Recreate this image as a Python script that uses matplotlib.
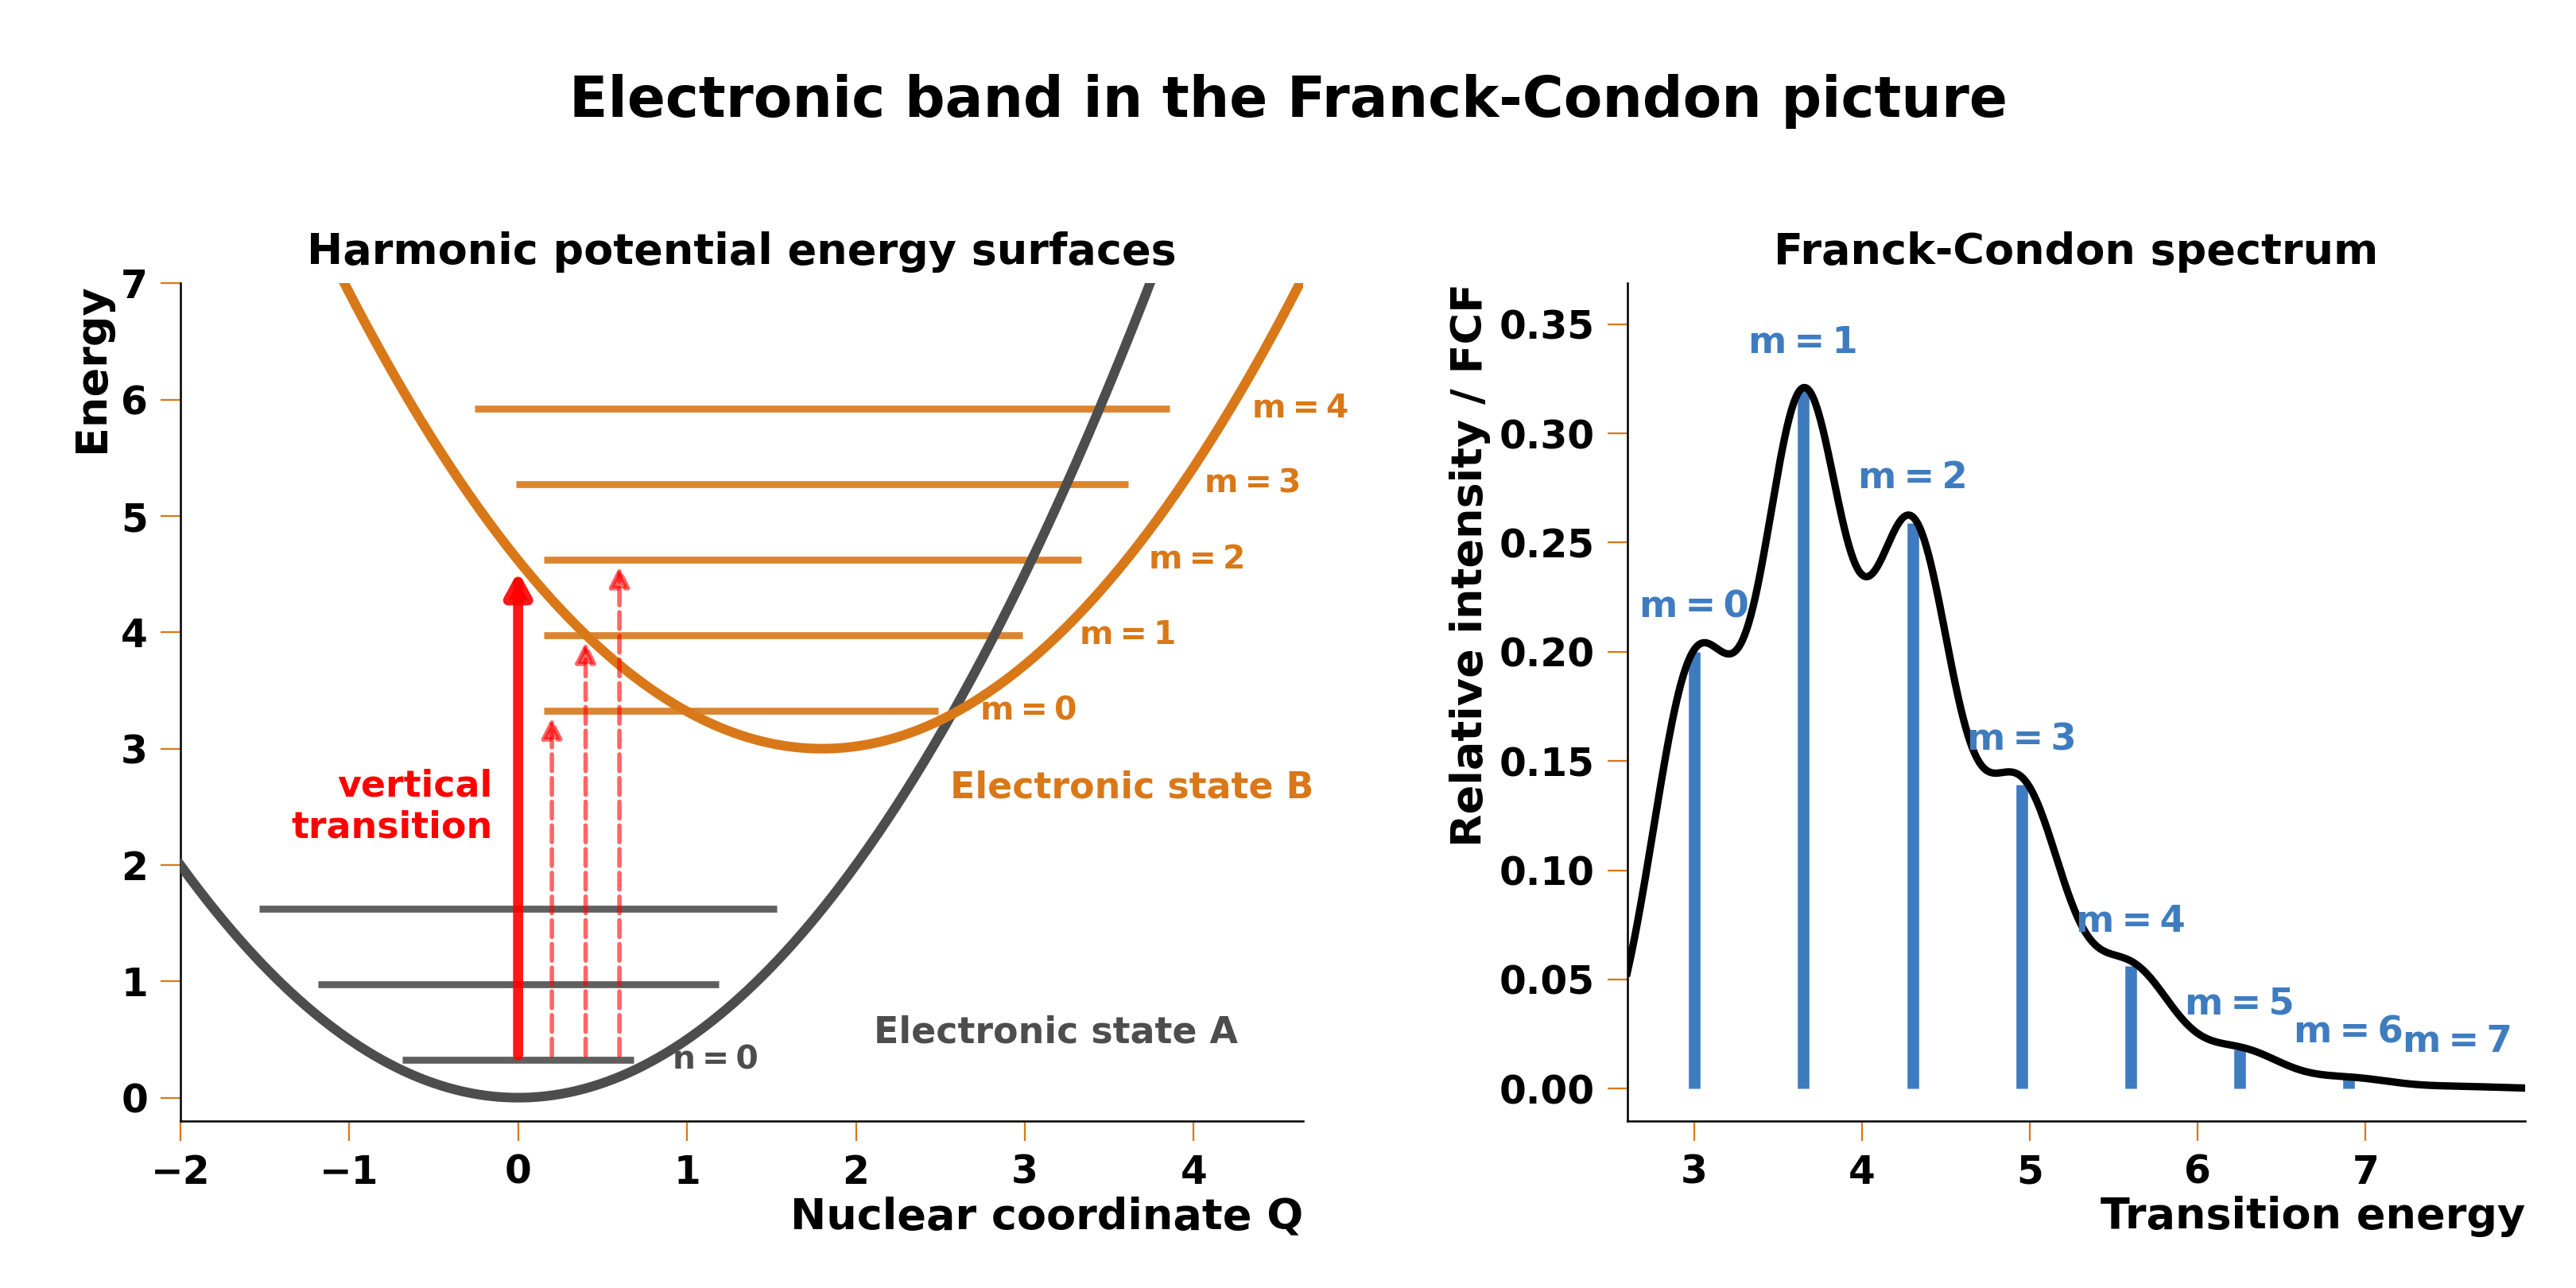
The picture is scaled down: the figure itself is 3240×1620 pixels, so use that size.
import numpy as np
import matplotlib
matplotlib.use("Agg")
import matplotlib.pyplot as plt

plt.rcParams['font.family'] = ['DejaVu Sans']
plt.rcParams['font.weight'] = 'bold'

# ---------------- data ----------------
# Potential energy surfaces (harmonic): E = E0 + 0.5*k*(Q-Q0)^2
state_A = dict(Q0=0.0, E0=0.0, k=1.0)
state_B = dict(Q0=1.8, E0=3.0, k=1.0)
levels_A = [0.325, 0.975, 1.625]                 # n = 0, 1, 2
levels_B = [3.325, 3.975, 4.625, 5.275, 5.925]   # m = 0..4
level_labels_B = ["m\u2009=\u20090", "m\u2009=\u20091", "m\u2009=\u20092",
                  "m\u2009=\u20093", "m\u2009=\u20094"]
level_label_A = "n\u2009=\u20090"

# vertical transitions (Q position, target energy)
arrow_Q = [0.0, 0.2, 0.4, 0.6]
arrow_target = [4.62, 3.325, 3.975, 4.625]

# Franck-Condon spectrum
trans_energy = [3.0, 3.65, 4.3, 4.95, 5.6, 6.25, 6.9, 7.55]
fcf = [0.200, 0.321, 0.259, 0.139, 0.056, 0.018, 0.005, 0.001]
stick_labels = ["m\u2009=\u2009%d" % i for i in range(8)]
broadening_sigma = 0.25

# ---------------- style ----------------
ORANGE = '#d97818'
GRAY = '#4d4d4d'
BLUE = '#3f7cbf'
TICK_FS = 17.3
LABEL_FS = 19.2

fig = plt.figure(figsize=(16, 8), dpi=202.5)
axL = fig.add_axes([0.070, 0.1297, 0.436, 0.6503])
axR = fig.add_axes([0.6317, 0.1297, 0.3485, 0.6503])

fig.text(0.5, 0.921, "Electronic band in the Franck-Condon picture",
         ha='center', va='center', fontsize=25.2, fontweight='bold')

for ax in (axL, axR):
    for s in ('top', 'right'):
        ax.spines[s].set_visible(False)
    for s in ('left', 'bottom'):
        ax.spines[s].set_linewidth(0.9)
    ax.tick_params(direction='out', length=9, width=0.8, color=ORANGE,
                   labelsize=TICK_FS, pad=5.5)

# ---------------- left panel ----------------
def pes(Q, st):
    return st['E0'] + 0.5 * st['k'] * (Q - st['Q0']) ** 2

Q = np.linspace(-2.0, 4.65, 600)
axL.plot(Q, pes(Q, state_A), color=GRAY, lw=4.3, zorder=3)
axL.plot(Q, pes(Q, state_B), color=ORANGE, lw=4.3, zorder=3)

for E in levels_A:
    tp = np.sqrt(2 * (E - state_A['E0']) / state_A['k'])
    axL.hlines(E, state_A['Q0'] - 0.85 * tp, state_A['Q0'] + 0.85 * tp,
               color=GRAY, alpha=0.9, lw=3.1, zorder=2)
axL.text(state_A['Q0'] + np.sqrt(2 * levels_A[0]) + 0.11, levels_A[0], level_label_A,
         color=GRAY, fontsize=14.5, fontweight='bold', ha='left', va='center')

for E, lab in zip(levels_B, level_labels_B):
    tp = np.sqrt(2 * (E - state_B['E0']) / state_B['k'])
    left = min(state_B['Q0'] - 0.85 * tp, 0.15)
    axL.hlines(E, left, state_B['Q0'] + 0.85 * tp,
               color=ORANGE, alpha=0.9, lw=3.1, zorder=2)
    axL.text(state_B['Q0'] + tp + 0.13, E, lab, color=ORANGE, fontsize=14.5,
             fontweight='bold', ha='left', va='center')

for i, (q, tgt) in enumerate(zip(arrow_Q, arrow_target)):
    if i == 0:
        props = dict(arrowstyle='-|>,head_length=0.55,head_width=0.3', lw=4.5,
                     color='red', alpha=0.9, mutation_scale=15, shrinkA=2, shrinkB=5)
    else:
        props = dict(arrowstyle='-|>,head_length=0.5,head_width=0.25', lw=2.0,
                     color='red', alpha=0.6, linestyle='--', mutation_scale=15,
                     shrinkA=2, shrinkB=3)
    axL.annotate('', xy=(q, tgt), xytext=(q, levels_A[0]), arrowprops=props, zorder=4)

axL.text(-0.15, 2.5, "vertical\ntransition", color='red', fontsize=16.3,
         fontweight='bold', ha='right', va='center', multialignment='right')
axL.text(2.56, 2.66, "Electronic state B", color=ORANGE, fontsize=16.3,
         fontweight='bold', ha='left', va='center')
axL.text(2.107, 0.56, "Electronic state A", color=GRAY, fontsize=16.3,
         fontweight='bold', ha='left', va='center')

axL.set_xlim(-2.0, 4.65)
axL.set_ylim(-0.2, 7.0)
axL.set_xticks([-2, -1, 0, 1, 2, 3, 4])
axL.set_yticks(range(0, 8))
axL.set_xlabel("Nuclear coordinate Q", fontsize=LABEL_FS, fontweight='bold',
               loc='right', labelpad=2)
axL.set_ylabel("Energy", fontsize=LABEL_FS, fontweight='bold', loc='top')
axL.set_title("Harmonic potential energy surfaces", fontsize=19.2, fontweight='bold', pad=8.5)

# ---------------- right panel ----------------
x = np.linspace(2.6, 7.95, 800)
spec = np.zeros_like(x)
for e, f in zip(trans_energy, fcf):
    spec += f * np.exp(-(x - e) ** 2 / (2 * broadening_sigma ** 2))
spec *= max(fcf) / spec.max()

axR.vlines(trans_energy, 0, fcf, color=BLUE, lw=5.2, zorder=2)
axR.plot(x, spec, color='black', lw=3.3, zorder=3)
for e, f, lab in zip(trans_energy, fcf, stick_labels):
    axR.text(e, f + 0.0205, lab, color=BLUE, fontsize=16.5, fontweight='bold',
             ha='center', va='center')

axR.set_xlim(2.6, 7.95)
axR.set_ylim(-0.0148, 0.3687)
axR.set_xticks([3, 4, 5, 6, 7])
axR.set_yticks(np.arange(0, 0.36, 0.05))
axR.yaxis.set_major_formatter(matplotlib.ticker.FormatStrFormatter('%.2f'))
axR.set_xlabel("Transition energy", fontsize=LABEL_FS, fontweight='bold',
               loc='right', labelpad=2)
axR.set_ylabel("Relative intensity / FCF", fontsize=LABEL_FS, fontweight='bold', loc='top')
axR.set_title("Franck-Condon spectrum", fontsize=19.2, fontweight='bold', pad=8.5)

for ax in (axL, axR):
    for lab in ax.get_xticklabels() + ax.get_yticklabels():
        lab.set_fontweight('bold')

fig.savefig("out.png", dpi=202.5)
